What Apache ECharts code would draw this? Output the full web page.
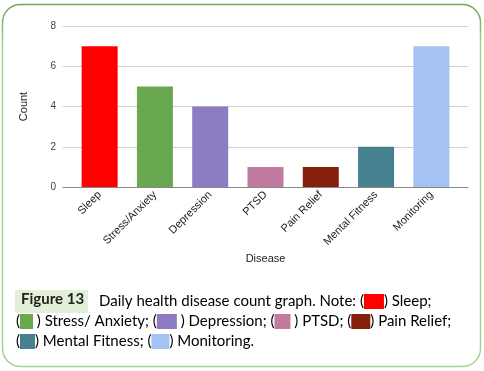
<!DOCTYPE html>
<html>
<head>
<meta charset="utf-8">
<script src="https://cdn.jsdelivr.net/npm/echarts@6/dist/echarts.min.js"></script>
<style>
html,body{margin:0;padding:0;background:#fff;}
#c{width:484px;height:371px;}
</style>
</head>
<body>
<div id="c"></div>
<script>
const categories = ['Sleep','Stress/Anxiety','Depression','PTSD','Pain Relief','Mental Fitness','Monitoring'];
const counts = [7, 5, 4, 1, 1, 2, 7];
const barColors = ['#ff0000','#6aa84f','#8e7cc3','#c27ba0','#85200c','#45818e','#a4c2f4'];
const yTicks = [0, 2, 4, 6, 8];
const captionNames = ['Sleep','Stress/ Anxiety','Depression','PTSD','Pain Relief','Mental Fitness','Monitoring'];

const chart = echarts.init(document.getElementById('c'), null, {renderer:'canvas'});
const capFont = 'Lato, "Open Sans", sans-serif';
const capColor = '#1c2233';
const boxW = [20, 13, 20, 16, 19, 15, 18];
const rich = {t:{fontFamily:capFont,fontSize:15,color:capColor}};
barColors.forEach((c,i)=>{ rich['b'+i] = {backgroundColor:c, width:boxW[i], height:15, fontSize:1, color:c}; });

const line1 = '{t|Daily health disease count graph. Note: (}{b0|.}{t|) '+captionNames[0]+';}';
const line2 = '{t|(}{b1|.}{t| ) '+captionNames[1]+'; (}{b2|.}{t| ) '+captionNames[2]+'; (}{b3|.}{t| ) '+captionNames[3]+'; (}{b4|.}{t|) '+captionNames[4]+';}';
const line3 = '{t|(}{b5|.}{t|) '+captionNames[5]+'; (}{b6|.}{t|) '+captionNames[6]+'.}';

const axisFont = '"Liberation Sans", Arial, sans-serif';
const yMin = yTicks[0], yMax = yTicks[yTicks.length-1], yInt = yTicks[1]-yTicks[0];
chart.setOption({
  animation:false,
  grid:[
    {left:63,right:16,top:26,bottom:184,containLabel:false,outerBoundsMode:'none'},
    {left:72,right:25,top:26,bottom:184,containLabel:false,outerBoundsMode:'none'}
  ],
  xAxis:[
    {gridIndex:0, type:'value', min:0, max:1, axisLine:{show:true,onZero:false,lineStyle:{color:'#888',width:1}},
     axisTick:{show:false}, axisLabel:{show:false}, splitLine:{show:false}},
    {gridIndex:1, type:'category', data:categories,
     name:'Disease', nameLocation:'middle', nameGap:66,
     nameTextStyle:{fontFamily:axisFont,fontSize:11,color:'#222'},
     axisLine:{show:false},
     axisTick:{show:false},
     axisLabel:{rotate:45,interval:0,fontFamily:axisFont,fontSize:11,color:'#222',margin:6}}
  ],
  yAxis:[
    {gridIndex:0, type:'value', min:yMin, max:yMax, interval:yInt,
     name:'Count', nameLocation:'middle', nameGap:34, nameRotate:90,
     nameTextStyle:{fontFamily:axisFont,fontSize:11,color:'#222'},
     axisLine:{show:false}, axisTick:{show:false},
     axisLabel:{fontFamily:axisFont,fontSize:10,color:'#444',margin:7},
     splitLine:{lineStyle:{color:'#d0d0d0',width:1}}},
    {gridIndex:1, type:'value', min:yMin, max:yMax, interval:yInt, show:false, splitLine:{show:false}}
  ],
  series:[{
    type:'bar', barWidth:36, xAxisIndex:1, yAxisIndex:1,
    data:counts.map((v,i)=>({value:v,itemStyle:{color:barColors[i]}}))
  }],
  graphic:[
    {type:'rect', shape:{x:2.5,y:4.5,width:478,height:362,r:18}, silent:true, z:-1,
     style:{fill:'none', lineWidth:1.5,
       stroke:new echarts.graphic.LinearGradient(0,0,0,1,[{offset:0,color:'#6aa84f'},{offset:0.05,color:'#7fb563'},{offset:0.12,color:'#a9d08e'},{offset:1,color:'#a9d08e'}])}},
    {type:'rect', shape:{x:15,y:290,width:73,height:23}, style:{fill:'#e2efd9'}, silent:true},
    {type:'text', left:21, top:292, style:{text:'Figure 13', fontFamily:capFont, fontSize:15, fontWeight:'bold', fill:'#222'}},
    {type:'text', left:99, top:294, style:{text:line1, rich:rich}},
    {type:'text', left:16, top:314, style:{text:line2, rich:rich}},
    {type:'text', left:16, top:334, style:{text:line3, rich:rich}}
  ]
});
</script>
</body>
</html>
